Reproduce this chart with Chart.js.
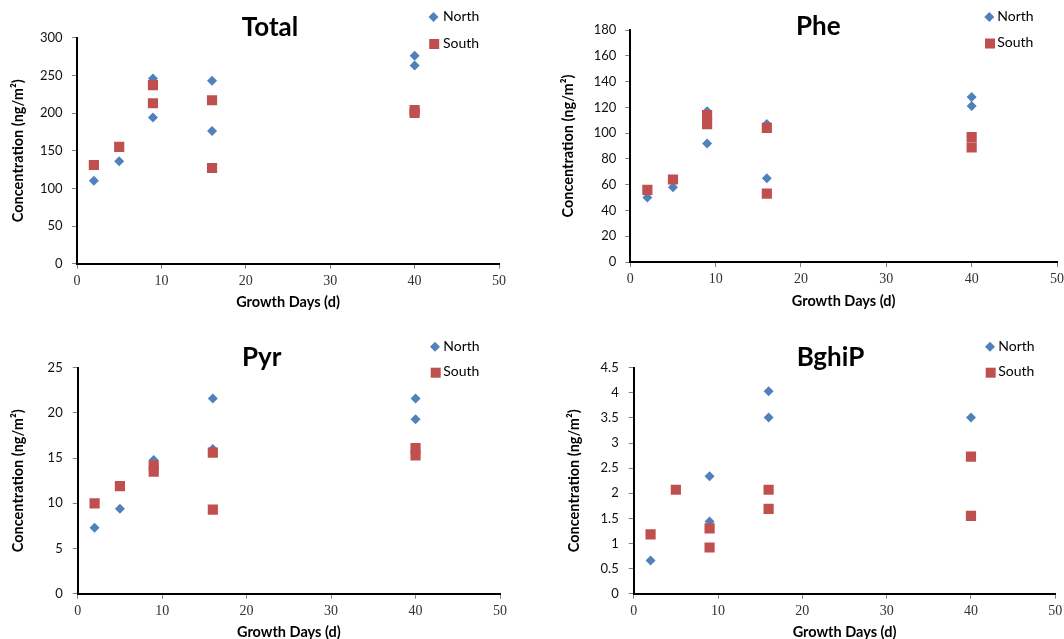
<!DOCTYPE html>
<html><head><meta charset="utf-8">
<script src="https://cdn.jsdelivr.net/npm/chart.js@4.4.1/dist/chart.umd.min.js"></script>
<style>
html,body{margin:0;padding:0;background:#fff;overflow:hidden;width:1064px;height:639px;position:relative;}
.p{position:absolute;}
canvas{display:block;}
</style></head><body>
<div class="p" style="left:0;top:0"><canvas id="c1"></canvas></div>
<div class="p" style="left:535px;top:0"><canvas id="c2"></canvas></div>
<div class="p" style="left:0;top:320px"><canvas id="c3"></canvas></div>
<div class="p" style="left:535px;top:320px"><canvas id="c4"></canvas></div>
<script>
// ---- data ----
const seriesNames = ['North', 'South'];
const xTicks = [0, 10, 20, 30, 40, 50];
const xTitle = 'Growth Days (d)';
const yTitle = 'Concentration (ng/m\u00B2)';

const days = [2, 5, 9, 9, 16, 16, 40, 40];

const totalNorth = [110, 136, 246, 194, 243, 176, 276, 263];
const totalSouth = [131, 155, 237, 213, 217, 127, 204, 200];
const totalTicks = [0, 50, 100, 150, 200, 250, 300];

const pheNorth = [50, 58, 117, 92, 107, 65, 128, 121];
const pheSouth = [56, 64, 114, 107, 104, 53, 97, 89];
const pheTicks = [0, 20, 40, 60, 80, 100, 120, 140, 160, 180];

const pyrNorthDays = [2, 5, 9, 16, 16, 40, 40];
const pyrNorth = [7.3, 9.4, 14.8, 21.6, 16.0, 21.6, 19.3];
const pyrSouth = [10.0, 11.9, 14.2, 13.5, 15.6, 9.3, 16.1, 15.3];
const pyrTicks = [0, 5, 10, 15, 20, 25];

const bghipNorthDays = [2, 9, 9, 16, 16, 40];
const bghipNorth = [0.66, 2.34, 1.44, 4.03, 3.51, 3.51];
const bghipSouth = [1.18, 2.07, 1.30, 0.92, 2.07, 1.69, 2.73, 1.55];
const bghipTicks = [0, 0.5, 1, 1.5, 2, 2.5, 3, 3.5, 4, 4.5];

const NORTH_COLOR = '#4F81BD';
const SOUTH_COLOR = '#C0504D';

function zip(xs, ys) { return xs.map((x, i) => ({x: x, y: ys[i]})); }

const decoPlugin = {
  id: 'deco',
  afterDraw(chart, args, o) {
    const ctx = chart.ctx;
    ctx.save();
    ctx.fillStyle = '#000';
    ctx.font = 'bold 26px Lato';
    ctx.textAlign = 'center';
    ctx.textBaseline = 'alphabetic';
    ctx.fillText(o.title, o.tx, o.ty);
    // legend
    const ds = chart.data.datasets;
    ctx.font = '14px Lato';
    ctx.textAlign = 'left';
    ctx.textBaseline = 'middle';
    const r = 5;
    ctx.fillStyle = ds[0].backgroundColor;
    ctx.beginPath();
    ctx.moveTo(o.lx - r, o.yN); ctx.lineTo(o.lx, o.yN - r);
    ctx.lineTo(o.lx + r, o.yN); ctx.lineTo(o.lx, o.yN + r);
    ctx.closePath(); ctx.fill();
    ctx.fillStyle = ds[1].backgroundColor;
    ctx.fillRect(o.lx - 5 + 0.7, o.yS - 5, 10, 10);
    ctx.fillStyle = '#000';
    ctx.fillText(ds[0].label, o.txt, o.yN - 0.5);
    ctx.fillText(ds[1].label, o.txt, o.yS - 1);
    ctx.restore();
  }
};

function makePanel(id, c) {
  const el = document.getElementById(id);
  el.width = c.W; el.height = c.H;
  el.style.width = c.W + 'px'; el.style.height = c.H + 'px';
  const a = c.area;
  new Chart(el, {
    type: 'scatter',
    data: {
      datasets: [
        {label: seriesNames[0], data: zip(c.nDays, c.nVals), pointStyle: 'rectRot', pointRadius: 5,
         pointHoverRadius: 5, backgroundColor: NORTH_COLOR, borderColor: NORTH_COLOR, borderWidth: 0, order: 1},
        {label: seriesNames[1], data: zip(c.sDays, c.sVals), pointStyle: 'rect', pointRadius: 7.2,
         pointHoverRadius: 7.2, backgroundColor: SOUTH_COLOR, borderColor: SOUTH_COLOR, borderWidth: 0, order: 0}
      ]
    },
    options: {
      responsive: false, animation: false, devicePixelRatio: 1,
      events: [],
      layout: {padding: {left: 0, top: a.top, right: c.W - a.right, bottom: 0}},
      plugins: {
        legend: {display: false}, tooltip: {enabled: false}, title: {display: false},
        deco: c.deco
      },
      scales: {
        x: {
          type: 'linear', min: 0, max: 50,
          afterBuildTicks: s => { s.ticks = xTicks.map(v => ({value: v})); },
          afterFit: s => { s.height = c.H - a.bottom; },
          ticks: {font: {family: 'Liberation Serif', size: 14}, color: '#333', padding: c.xTickPad,
                  callback: v => String(v), maxRotation: 0, autoSkip: false},
          grid: {drawOnChartArea: false, drawTicks: true, tickLength: 5, color: '#808080', lineWidth: 1},
          border: {display: true, color: '#000', width: 2},
          title: {display: true, text: xTitle, font: {family: 'Lato', size: 14.5, weight: 'bold'},
                  color: '#000', padding: {top: 0, bottom: c.xTitlePad}}
        },
        y: {
          type: 'linear', min: 0, max: c.yTicks[c.yTicks.length - 1],
          afterBuildTicks: s => { s.ticks = c.yTicks.map(v => ({value: v})); },
          afterFit: s => { s.width = a.left; },
          ticks: {font: {family: 'Lato', size: 13}, color: '#111', padding: c.yTickPad,
                  callback: v => String(v), autoSkip: false},
          grid: {drawOnChartArea: false, drawTicks: true, tickLength: 5, color: '#808080', lineWidth: 1},
          border: {display: true, color: '#000', width: 2},
          title: {display: true, text: yTitle, font: {family: 'Lato', size: 14.5, weight: 'bold'},
                  color: '#000', padding: {top: c.yTitlePad, bottom: 0}}
        }
      }
    },
    plugins: [decoPlugin]
  });
}

makePanel('c1', {W: 535, H: 320, area: {left: 77, right: 499, top: 37.7, bottom: 263.7},
  nDays: days, nVals: totalNorth, sDays: days, sVals: totalSouth, yTicks: totalTicks,
  yTickPad: 9.5, xTickPad: 4.2, yTitlePad: 9.5, xTitlePad: 8.5,
  deco: {title: 'Total', tx: 270, ty: 36, lx: 433.5, yN: 17, yS: 44, txt: 443}});

makePanel('c2', {W: 540, H: 320, area: {left: 95.3, right: 522, top: 30, bottom: 262},
  nDays: days, nVals: pheNorth, sDays: days, sVals: pheSouth, yTicks: pheTicks,
  yTickPad: 9, xTickPad: 3.6, yTitlePad: 24.5, xTitlePad: 10.2,
  deco: {title: 'Phe', tx: 283.3, ty: 35, lx: 454.3, yN: 17, yS: 43.5, txt: 462.3}});

makePanel('c3', {W: 535, H: 330, area: {left: 77.7, right: 500, top: 47.7, bottom: 273.7},
  nDays: pyrNorthDays, nVals: pyrNorth, sDays: days, sVals: pyrSouth, yTicks: pyrTicks,
  yTickPad: 10, xTickPad: 3.9, yTitlePad: 9.5, xTitlePad: 8.7,
  deco: {title: 'Pyr', tx: 261.7, ty: 45.7, lx: 435, yN: 26.7, yS: 52.7, txt: 443.3}});

makePanel('c4', {W: 540, H: 330, area: {left: 98.7, right: 520.3, top: 47.7, bottom: 273.7},
  nDays: bghipNorthDays, nVals: bghipNorth, sDays: days, sVals: bghipSouth, yTicks: bghipTicks,
  yTickPad: 10, xTickPad: 3.9, yTitlePad: 30.2, xTitlePad: 8.7,
  deco: {title: 'BghiP', tx: 295.5, ty: 45.7, lx: 455, yN: 26.7, yS: 52.7, txt: 463.3}});
</script>
</body></html>
